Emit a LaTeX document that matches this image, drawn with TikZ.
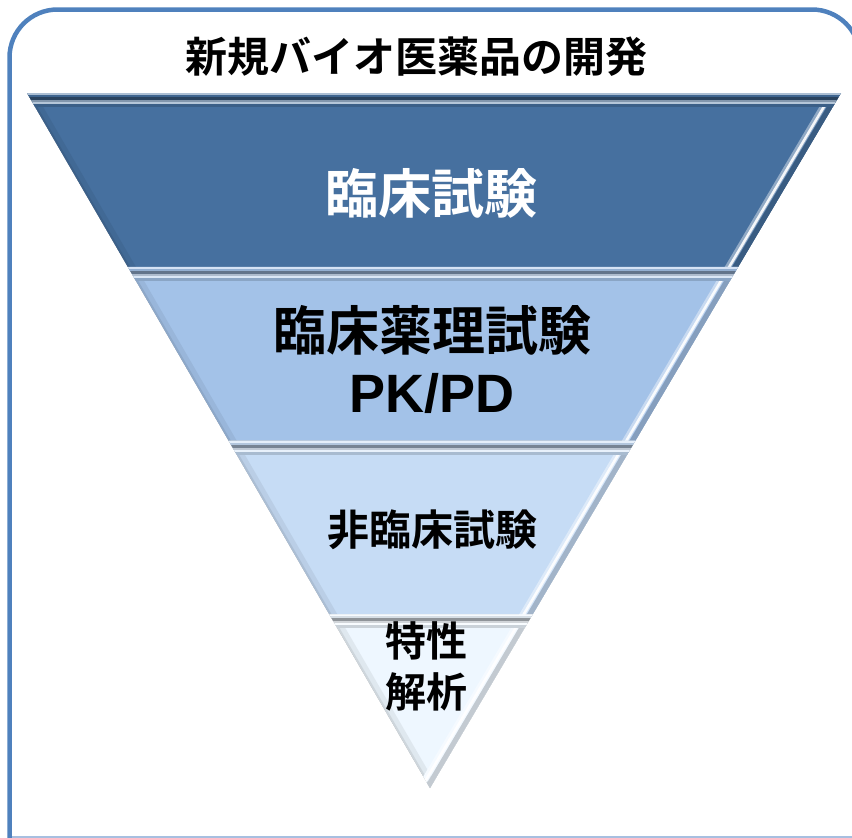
\documentclass[tikz,border=0pt]{standalone}
\usepackage{fontspec}
\newfontfamily\jpfont{Noto Sans CJK JP Bold}
\newfontfamily\pkfont{Liberation Sans Bold}
\usetikzlibrary{calc}
\definecolor{frameblue}{HTML}{4F81BD}
\definecolor{framelight}{HTML}{A7BFE0}
\definecolor{bandA}{HTML}{46709F}
\definecolor{bandB}{HTML}{A3C2E8}
\definecolor{bandC}{HTML}{C6DCF5}
\definecolor{bandD}{HTML}{EEF7FF}

\begin{document}
\begin{tikzpicture}[x=1pt,y=-1pt,
    titletext/.style={font=\jpfont\fontsize{42}{42}\selectfont,inner sep=0pt},
    bigtext/.style={font=\jpfont\fontsize{53}{53}\selectfont,inner sep=0pt},
    midtext/.style={font=\jpfont\fontsize{42}{42}\selectfont,inner sep=0pt},
    smalltext/.style={font=\jpfont\fontsize{41}{51}\selectfont,inner sep=0pt,align=center},
    pktext/.style={font=\pkfont\fontsize{54}{54}\selectfont,inner sep=0pt}]

  \useasboundingbox (0,0) rectangle (852,838);

  % funnel corners (top left, top right, tip)
  \coordinate (TL) at (27,93);
  \coordinate (TR) at (841,93);
  \coordinate (TIP) at (430,788);

  % frame
  \draw[frameblue,line width=4.5pt,rounded corners=48pt]
        (9.5,850) -- (9.5,9.5) -- (860,9.5) -- (860,850);
  \draw[framelight,line width=2pt] (12,837) -- (852,837);

  % soft shadow
  \foreach \s in {1,...,8}
    \fill[black,opacity=0.06,shift={(\s*0.9,\s*0.9)}] (TL) -- (TR) -- (TIP) -- cycle;

  % bands, top to bottom
  \foreach \k/\col in {0/bandA,1/bandB,2/bandC,3/bandD} {
    \pgfmathsetmacro\a{\k/4}
    \pgfmathsetmacro\b{(\k+1)/4}
    \pgfmathsetmacro\yt{93+695*\k/4}
    \begin{scope}
      \clip ($(TL)!\a!(TIP)$) -- ($(TR)!\a!(TIP)$) -- ($(TR)!\b!(TIP)$) -- ($(TL)!\b!(TIP)$) -- cycle;
      \fill[\col] (0,\yt) rectangle (852,\yt+200);
      % left edge shade
      \draw[\col!70!black,opacity=0.2,line width=14pt] (TL) -- (TIP);
      \draw[\col!70!black,opacity=0.3,line width=4pt] (TL) -- (TIP);
      % right bevel and highlight
      \draw[\col!82!black,line width=10pt] (TR) -- (TIP);
      \draw[\col!60!white,line width=6pt] ($(TR)+(-10,0)$) -- ($(TIP)+(-10,0)$);
      \draw[white,opacity=0.9,line width=2.5pt] ($(TR)+(-9,0)$) -- ($(TIP)+(-9,0)$);
      % top bevel stripes
      \fill[\col!45!white] (0,\yt-2) rectangle (852,\yt+2);
      \fill[\col!90!black] (0,\yt+2) rectangle (852,\yt+4);
      \fill[\col!60!black] (0,\yt+4) rectangle (852,\yt+7);
      \fill[\col!55!white!85!black] (0,\yt+7) rectangle (852,\yt+9);
      \fill[\col!40!white] (0,\yt+9) rectangle (852,\yt+11);
      \fill[\col!85!black] (0,\yt+11) rectangle (852,\yt+14);
    \end{scope}
  }

  % labels
  \node[titletext] (ttl) at (416,57) {新規バイオ医薬品の開発};
  \node[bigtext,white] (clin) at (431,193) {臨床試験};
  \node[bigtext] (pharm) at (432,330) {臨床薬理試験};
  \node[pktext] (pkpd) at (432,393) {PK/PD};
  \node[midtext] (nonclin) at (432,530) {非臨床試験};
  \node[smalltext] (charac) at (426,666) {特性\\解析};

\end{tikzpicture}
\end{document}
